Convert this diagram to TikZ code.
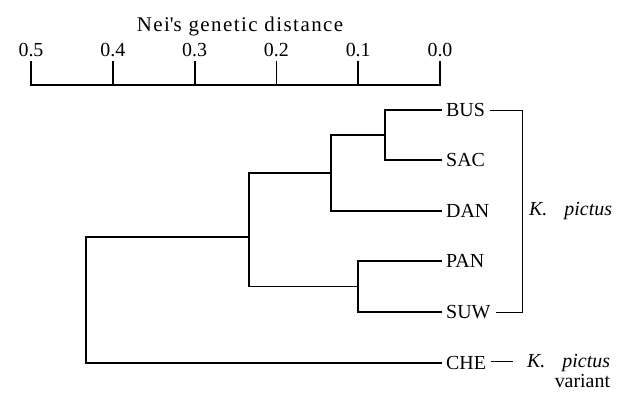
\documentclass[tikz,border=0pt]{standalone}
\usepackage{fontspec}
\setmainfont{Liberation Serif}
\begin{document}
\begin{tikzpicture}[x=1bp,y=-1bp,
  branch/.style={line width=1.8bp,line cap=rect},
  thinline/.style={line width=0.8bp},
  leaf/.style={anchor=west,inner xsep=5bp,inner ysep=0pt,font=\fontsize{20}{22}\selectfont},
  ticklab/.style={anchor=base,inner sep=0pt,font=\fontsize{20}{22}\selectfont},
  lab/.style={anchor=west,inner sep=0pt,font=\fontsize{20}{22}\selectfont}]
\useasboundingbox (0,0) rectangle (630,398);

% axis
\node[anchor=base,inner sep=0pt,font=\fontsize{21}{24}\selectfont\addfontfeature{LetterSpace=7}] (title) at (240,31) {Nei\textquotesingle s genetic distance};
\foreach \v/\x/\n in {0.5/31/a5,0.4/112.8/a4,0.3/194.6/a3,0.2/276.4/a2,0.1/358.2/a1,0.0/440/a0}{
  \coordinate (\n top) at (\x,62);
  \coordinate (\n) at (\x,85);
  \node[ticklab] (\n lab) at (\x,56) {\v};
  \draw[branch] (\n top) -- (\n);
}
\draw[branch] (a5) -- (a0);

% leaves
\node[leaf] (BUS) at (441,110) {BUS};
\node[leaf] (SAC) at (441,160) {SAC};
\node[leaf] (DAN) at (441,211) {DAN};
\node[leaf] (PAN) at (441,261) {PAN};
\node[leaf] (SUW) at (441,312) {SUW};
\node[leaf] (CHE) at (441,363) {CHE};

% internal nodes
\coordinate (n1) at (385,135);
\coordinate (n2) at (331,173);
\coordinate (n3) at (358,286.5);
\coordinate (n4) at (249,237);
\coordinate (root) at (86,300);

\draw[branch] (n1) |- (BUS.west);
\draw[branch] (n1) |- (SAC.west);
\draw[branch] (n2) |- (n1);
\draw[branch] (n2) |- (DAN.west);
\draw[branch] (n3) |- (PAN.west);
\draw[branch] (n3) |- (SUW.west);
\draw[branch] (n4) |- (n2);
\draw[branch] (n4) |- (n3);
\draw[branch] (root) |- (n4);
\draw[branch] (root) |- (CHE.west);

% bracket
\coordinate (bk) at (522,0);
\draw[thinline] (BUS.east) -| (bk |- SUW.east) -- (SUW.east);
\node[lab] (Kp) at (529,211) {\textit{K.}\hspace{17bp}\textit{pictus}};

% variant
\coordinate (chek) at (513,361);
\draw[thinline] (CHE.east |- chek) -- (chek);
\node[lab] (Kv) at (527,363) {\textit{K.}\hspace{17bp}\textit{pictus}};
\node[anchor=north east,inner sep=0pt,font=\fontsize{20}{22}\selectfont] (var) at ([yshift=-2bp]Kv.south east) {variant};
\end{tikzpicture}
\end{document}
